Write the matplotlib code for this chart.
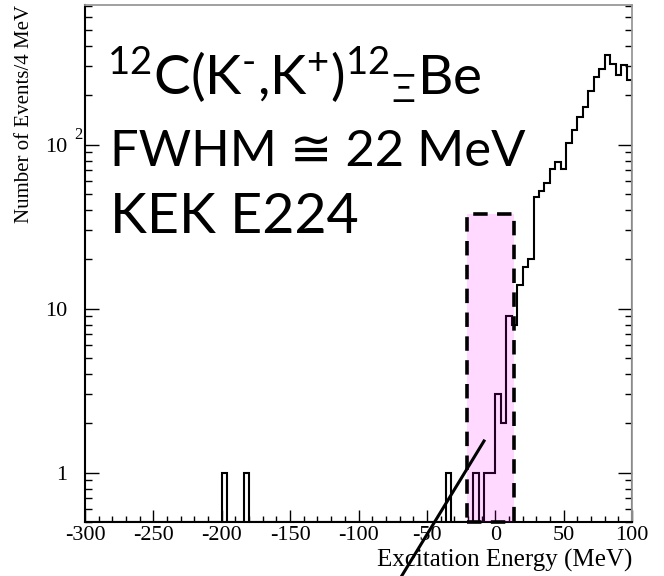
import matplotlib

matplotlib.use("Agg")
import matplotlib.pyplot as plt
import numpy as np
from matplotlib.lines import Line2D
from matplotlib.patches import Rectangle
from matplotlib.ticker import LogLocator, MultipleLocator, NullFormatter

plt.rcParams.update({
    "font.family": "Liberation Serif",
    "mathtext.fontset": "custom",
    "mathtext.rm": "Lato",
    "mathtext.it": "Lato:italic",
    "mathtext.bf": "Lato:bold",
    "mathtext.fallback": "stixsans",
    "axes.unicode_minus": False,
})

# 12C(K-,K+) missing-mass spectrum, 4 MeV bins from -300 to 100 MeV
bin_edges = np.arange(-300, 101, 4)
filled_left = [-200, -184, -36, -16, -8, -4, 0, 4, 8, 12, 16, 20, 24, 28, 32, 36,
               40, 44, 48, 52, 56, 60, 64, 68, 72, 76, 80, 84, 88, 92, 96]
filled_counts = [1, 1, 1, 1, 1, 1, 3, 2, 9, 8, 14, 18, 20, 48, 52, 58,
                 71, 78, 71, 103, 122, 148, 170, 211, 259, 289, 351, 312, 267, 307, 249]

# highlighted bound-state window
window_x = (-21, 14)
window_top = 38

x_ticks = [-300, -250, -200, -150, -100, -50, 0, 50, 100]
y_ticks = [1, 10, 100]
y_ticklabels = ["1", "10", "10"]

YMIN, YMAX = 0.5, 710

counts = np.zeros(len(bin_edges) - 1)
for left, c in zip(filled_left, filled_counts):
    counts[np.searchsorted(bin_edges, left)] = c

fig = plt.figure(figsize=(6.64, 5.76), dpi=100)
ax = fig.add_axes([85 / 664, 1 - 522 / 576, (632 - 85) / 664, (522 - 5) / 576])

ax.stairs(np.maximum(counts, YMIN), bin_edges, baseline=YMIN, color="black",
          lw=1.5, zorder=2)

ax.set_yscale("log")
ax.set_xlim(-300, 100)
ax.set_ylim(YMIN, YMAX)

# pink window over the histogram, dashed frame on top
ax.add_patch(Rectangle((window_x[0], YMIN), window_x[1] - window_x[0], window_top - YMIN,
                       facecolor=(1, 0, 1, 0.15), edgecolor="none", zorder=3,
                       clip_on=False))
ax.add_patch(Rectangle((window_x[0], YMIN), window_x[1] - window_x[0], window_top - YMIN,
                       fill=False, edgecolor="black", lw=2.6, ls=(0, (4, 2.6)),
                       zorder=4, clip_on=False))

ax.set_xticks(x_ticks)
ax.xaxis.set_minor_locator(MultipleLocator(10))
ax.set_yticks(y_ticks, labels=y_ticklabels)
ax.yaxis.set_minor_locator(LogLocator(base=10, subs=np.arange(2, 10)))
ax.yaxis.set_minor_formatter(NullFormatter())

ax.tick_params(which="both", direction="in", top=False, right=True, labelsize=16,
               width=1.0)
ax.tick_params(axis="x", which="major", length=8.5, pad=3.0)
ax.tick_params(axis="x", which="minor", length=4.3)
ax.tick_params(axis="y", which="major", length=10, pad=13)
ax.tick_params(axis="y", which="minor", length=5)

for s in ("left", "bottom"):
    ax.spines[s].set_linewidth(1.5)
for s in ("top", "right"):
    ax.spines[s].set_color("#999999")
    ax.spines[s].set_linewidth(1.3)

ax.annotate("2", xy=(0, 100), xycoords=ax.get_yaxis_transform(), xytext=(-8, 7),
            textcoords="offset points", fontsize=12, ha="left", va="center")

ax.set_xlabel("Excitation Energy (MeV)", fontsize=18, loc="right", labelpad=3)
ax.set_ylabel("Number of Events/4 MeV", fontsize=15, loc="top", labelpad=8)

fig.text(107 / 664, 1 - 95 / 576, r"$^{12}$C(K$^{\text{-}}$,K$^{+}$)$^{12}{}_{\Xi}$Be",
         fontsize=39.5, family="Lato", va="baseline", ha="left")
fig.text(110 / 664, 1 - 166 / 576, "FWHM \u2245 22 MeV", fontsize=36.5,
         family=["Lato", "DejaVu Sans"], va="baseline", ha="left")
fig.text(110 / 664, 1 - 233 / 576, "KEK E224", fontsize=40, family="Lato",
         va="baseline", ha="left")

# pointer line running off the bottom edge
fig.add_artist(Line2D([398 / 664, 484 / 664], [-6 / 576, 1 - 441 / 576],
                      transform=fig.transFigure, color="black", lw=2.2))

fig.savefig("out.png", dpi=100)
